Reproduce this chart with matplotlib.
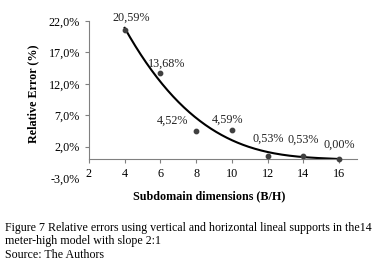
import numpy as np
import matplotlib.pyplot as plt

plt.rcParams['font.family'] = ['Liberation Serif', 'DejaVu Serif']

# data
dims = [4, 6, 8, 10, 12, 14, 16]
errors = [20.59, 13.68, 4.52, 4.59, 0.53, 0.53, 0.00]
labels = ['20,59%', '13,68%', '4,52%', '4,59%', '0,53%', '0,53%', '0,00%']
yticks = [-3, 2, 7, 12, 17, 22]
xticks = [2, 4, 6, 8, 10, 12, 14, 16]

# label offsets in pixels (dx, dy)
offs = [(7, 12), (6, 10), (-24, 10), (-4, 11), (1, 17), (0, 16), (0, 15)]

fig = plt.figure(figsize=(3.8, 2.67), dpi=100)
ax = fig.add_axes([0.234, 0.333, 0.705, 0.588])

# polynomial trendline (order 3) from the data
coef = np.polyfit(dims, errors, 3)
xs = np.linspace(4, 16, 200)
ax.plot(xs, np.polyval(coef, xs), color='black', lw=1.5, zorder=2)
ax.scatter(dims, errors, s=10, color='#404040', zorder=3)

for x, y, t, (dx, dy) in zip(dims, errors, labels, offs):
    ax.annotate(t, (x, y), xytext=(dx, dy), textcoords='offset pixels',
                ha='center', va='center', fontsize=8.7, color='#222222')

ax.set_xlim(2, 17)
ax.set_ylim(-3, 22)
ax.set_xticks(xticks)
ax.set_yticks(yticks)
ax.set_yticklabels([f'{v:.1f}%'.replace('.', ',') for v in yticks])
for s in ['top', 'right']:
    ax.spines[s].set_visible(False)
ax.spines['bottom'].set_position(('data', 0))
ax.spines['left'].set_bounds(0, 22)
for s in ['bottom', 'left']:
    ax.spines[s].set_color('#808080')
ax.tick_params(axis='both', colors='#808080', labelcolor='black', labelsize=8.7, length=3)
ax.tick_params(axis='x', pad=3)
ax.yaxis.get_major_ticks()[0].tick1line.set_visible(False)

fig.text(0.087, 0.65, 'Relative Error (%)', rotation=90, ha='center', va='center',
         fontsize=8.7, fontweight='bold')
fig.text(0.55, 0.266, 'Subdomain dimensions (B/H)', ha='center', va='center',
         fontsize=8.7, fontweight='bold')

caption = ('Figure 7 Relative errors using vertical and horizontal lineal supports in the14\n'
           'meter-high model with slope 2:1\n'
           'Source: The Authors')
fig.text(0.013, 0.17, caption, ha='left', va='top', fontsize=8.6, linespacing=1.2)

fig.savefig('out.png', dpi=100)
